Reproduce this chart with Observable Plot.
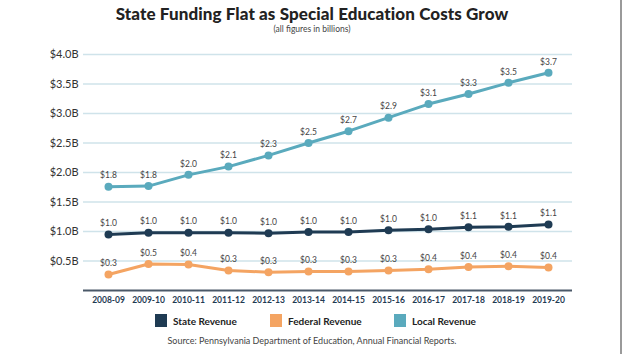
<!DOCTYPE html>
<html>
<head>
<meta charset="utf-8">
<script src="https://cdn.jsdelivr.net/npm/d3@7"></script>
<script src="https://cdn.jsdelivr.net/npm/@observablehq/plot@0.6"></script>
<style>
  html, body { margin: 0; padding: 0; background: #fff; }
  #wrap { position: relative; width: 624px; height: 354px; overflow: hidden; font-family: Lato, "DejaVu Sans", sans-serif; }
  #title { position: absolute; left: 0; width: 624px; top: 4px; line-height: 20px; text-align: center; font-size: 17px; font-weight: 900; color: #222; letter-spacing: 0.1px; }
  #subtitle { position: absolute; left: 0; width: 624px; top: 24px; line-height: 11px; text-align: center; font-size: 8.5px; color: #444; }
  #chart { position: absolute; left: 0; top: 40px; }
  #legend { position: absolute; top: 314px; left: 0; width: 624px; height: 14px; }
  .li { position: absolute; top: 0; display: flex; align-items: center; font-size: 10px; font-weight: 700; color: #222; }
  .sw { width: 12px; height: 13px; margin-right: 6px; }
  #source { position: absolute; top: 335px; left: 0; width: 624px; line-height: 12px; text-align: center; font-size: 9px; color: #444; }
  #edge { position: absolute; left: 620px; top: 0; width: 2px; height: 354px; background: #9a9a9a; }
</style>
</head>
<body>
<div id="wrap">
  <div id="title">State Funding Flat as Special Education Costs Grow</div>
  <div id="subtitle">(all figures in billions)</div>
  <div id="chart"></div>
  <div id="legend"></div>
  <div id="source">Source: Pennsylvania Department of Education, Annual Financial Reports.</div>
  <div id="edge"></div>
</div>
<script>
const years = ["2008-09","2009-10","2010-11","2011-12","2012-13","2013-14","2014-15","2015-16","2016-17","2017-18","2018-19","2019-20"];
const stateValues   = [0.95, 0.98, 0.98, 0.98, 0.97, 0.99, 0.99, 1.02, 1.04, 1.07, 1.08, 1.12];
const federalValues = [0.27, 0.45, 0.44, 0.34, 0.31, 0.32, 0.32, 0.34, 0.36, 0.40, 0.41, 0.39];
const localValues   = [1.76, 1.77, 1.96, 2.10, 2.29, 2.50, 2.70, 2.93, 3.16, 3.33, 3.52, 3.69];
const stateLabels   = ["$1.0","$1.0","$1.0","$1.0","$1.0","$1.0","$1.0","$1.0","$1.0","$1.1","$1.1","$1.1"];
const federalLabels = ["$0.3","$0.5","$0.4","$0.3","$0.3","$0.3","$0.3","$0.3","$0.4","$0.4","$0.4","$0.4"];
const localLabels   = ["$1.8","$1.8","$2.0","$2.1","$2.3","$2.5","$2.7","$2.9","$3.1","$3.3","$3.5","$3.7"];
const yTicks = [0.5, 1.0, 1.5, 2.0, 2.5, 3.0, 3.5, 4.0];
const seriesNames = ["State Revenue", "Federal Revenue", "Local Revenue"];
const seriesColors = ["#1f3b53", "#f4a462", "#5aaabd"];

const series = [
  {name: seriesNames[0], values: stateValues, labels: stateLabels},
  {name: seriesNames[1], values: federalValues, labels: federalLabels},
  {name: seriesNames[2], values: localValues, labels: localLabels}
];
const rows = series.flatMap(s => years.map((yr, i) => ({series: s.name, year: yr, value: s.values[i], label: s.labels[i]})));

const chart = Plot.plot({
  width: 624,
  height: 280,
  marginLeft: 83,
  marginRight: 52,
  marginTop: 14,
  marginBottom: 30,
  style: {fontFamily: "Lato, 'DejaVu Sans', sans-serif", background: "transparent"},
  x: {type: "point", domain: years, padding: 0.5},
  y: {domain: [0, 4]},
  color: {domain: seriesNames, range: seriesColors},
  marks: [
    Plot.gridY(yTicks, {stroke: "#cfe3ea", strokeOpacity: 1, strokeWidth: 1.5}),
    Plot.axisY(yTicks, {tickSize: 0, tickPadding: 5, fontSize: 11, fill: "#333", label: null,
      tickFormat: d => `$${d.toFixed(1)}B`}),
    Plot.axisX({tickSize: 0, tickPadding: 6, fontSize: 8.5, fontWeight: 700, fill: "#1f3b53", label: null}),
    Plot.ruleY([0], {stroke: "#4a5868", strokeWidth: 2}),
    Plot.line(rows, {x: "year", y: "value", z: "series", stroke: "series", strokeWidth: 3}),
    Plot.dot(rows, {x: "year", y: "value", fill: "series", r: 4}),
    Plot.text(rows, {x: "year", y: "value", text: "label", dy: -11, fontSize: 8.5, fill: "#444"})
  ]
});
document.getElementById("chart").appendChild(chart);

const legend = document.getElementById("legend");
const legendX = [155, 270, 394];
seriesNames.forEach((n, i) => {
  const el = document.createElement("div");
  el.className = "li";
  el.style.left = legendX[i] + "px";
  el.innerHTML = `<div class="sw" style="background:${seriesColors[i]}"></div><span>${n}</span>`;
  legend.appendChild(el);
});
</script>
</body>
</html>
